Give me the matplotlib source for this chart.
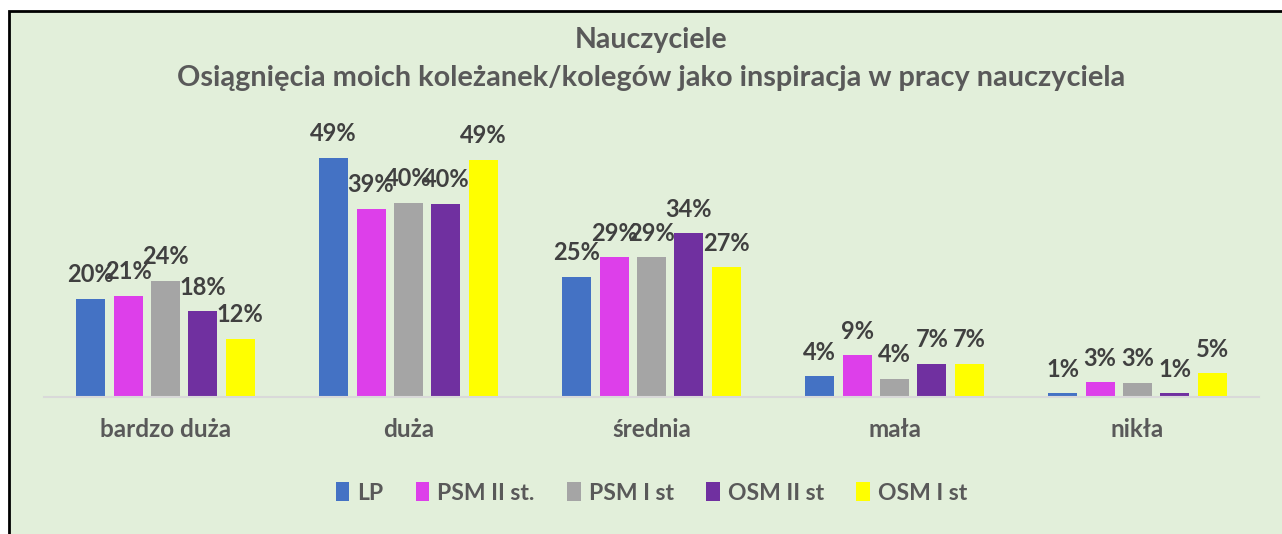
import matplotlib.pyplot as plt
import numpy as np
from matplotlib.patches import Rectangle

plt.rcParams['font.family'] = ['Lato', 'DejaVu Sans']

categories = ['bardzo duża', 'duża', 'średnia', 'mała', 'nikła']
series = ['LP', 'PSM II st.', 'PSM I st', 'OSM II st', 'OSM I st']
lp = [20.1, 49.0, 24.6, 4.3, 0.8]
psm2 = [20.7, 38.6, 28.6, 8.6, 3.0]
psm1 = [23.8, 39.8, 28.6, 3.7, 2.9]
osm2 = [17.6, 39.6, 33.6, 6.8, 0.8]
osm1 = [11.9, 48.6, 26.6, 6.8, 4.9]
colors = ['#4472C4', '#DD3FEA', '#A5A5A5', '#7030A0', '#FFFF00']

bg = '#E2EFDA'
fig = plt.figure(figsize=(12.82, 5.34), dpi=100)
fig.patch.set_facecolor('white')
# chart area with black border on top/left (right/bottom cut off)
fig.patches.append(Rectangle((8.5 / 1282, -0.05), 1.1, (534 - 11) / 534 + 0.05,
                             transform=fig.transFigure, facecolor=bg,
                             edgecolor='black', linewidth=2, zorder=-10))

ax = fig.add_axes([44 / 1282, 137 / 534, 1215 / 1282, 268 / 534])
ax.set_facecolor('none')
ax.set_zorder(1)

x = np.arange(len(categories))
step = 0.154
width = 0.119
for i, (name, vals) in enumerate(zip(series, [lp, psm2, psm1, osm2, osm1])):
    pos = x + (i - 2) * step
    ax.bar(pos, vals, width, color=colors[i], label=name, zorder=2)
    for p, v in zip(pos, vals):
        ax.annotate(f'{v:.0f}%', (p, v), xytext=(0, 9), textcoords='offset points',
                    ha='center', va='bottom', fontsize=17, fontweight='bold',
                    color='#404040', zorder=3)

ax.set_xlim(-0.5, 4.5)
ax.set_ylim(0, 268 / 4.88)
for s in ['top', 'right', 'left']:
    ax.spines[s].set_visible(False)
ax.spines['bottom'].set_color('#D9D9D9')
ax.spines['bottom'].set_linewidth(1.5)
ax.set_yticks([])
ax.set_xticks(x)
ax.set_xticklabels(categories, fontsize=17.5, fontweight='bold', color='#595959')
ax.tick_params(axis='x', length=0, pad=15)

fig.text(0.508, (534 - 40) / 534, 'Nauczyciele', ha='center', va='center',
         fontsize=20.5, fontweight='bold', color='#595959')
fig.text(0.508, (534 - 78) / 534,
         'Osiągnięcia moich koleżanek/kolegów jako inspiracja w pracy nauczyciela',
         ha='center', va='center', fontsize=20.8, fontweight='bold', color='#595959')

leg = fig.legend(loc='center', bbox_to_anchor=(0.508, (534 - 493) / 534), ncol=5,
                 frameon=False, handlelength=0.6, handleheight=0.9, handletextpad=0.35,
                 columnspacing=1.4, prop={'size': 16.5, 'weight': 'bold'})
for t in leg.get_texts():
    t.set_color('#595959')

fig.savefig('out.png', dpi=100, facecolor=fig.get_facecolor())
